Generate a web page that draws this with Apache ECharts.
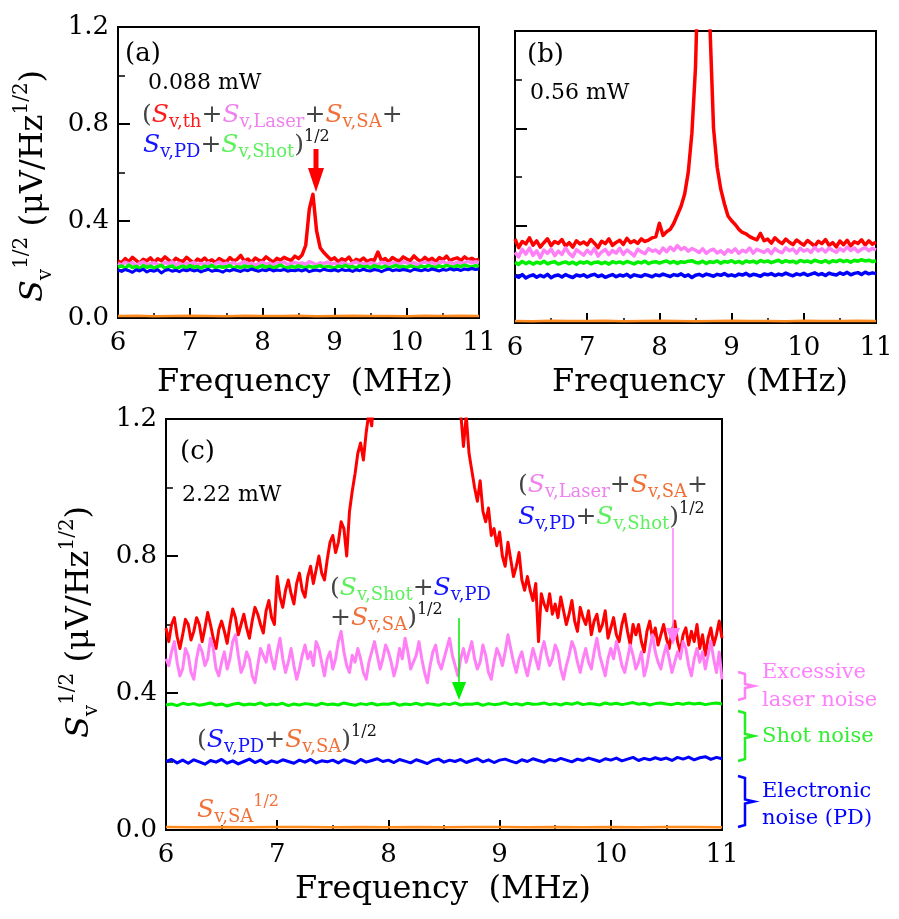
<!DOCTYPE html>
<html><head><meta charset="utf-8">
<script src="https://cdn.jsdelivr.net/npm/echarts@6/dist/echarts.min.js"></script>
<style>html,body{margin:0;padding:0;background:#fff}#c{width:899px;height:919px}</style>
</head><body><div id="c"></div>
<script>
// ---------- x grids (MHz) ----------
const freq = [
6,6.05,6.1,6.15,6.2,6.25,6.3,6.35,6.4,6.45,
6.5,6.55,6.6,6.65,6.7,6.75,6.8,6.85,6.9,6.95,
7,7.05,7.1,7.15,7.2,7.25,7.3,7.35,7.4,7.45,
7.5,7.55,7.6,7.65,7.7,7.75,7.8,7.85,7.9,7.95,
8,8.05,8.1,8.15,8.2,8.25,8.3,8.35,8.4,8.45,
8.5,8.55,8.6,8.65,8.7,8.75,8.8,8.85,8.9,8.95,
9,9.05,9.1,9.15,9.2,9.25,9.3,9.35,9.4,9.45,
9.5,9.55,9.6,9.65,9.7,9.75,9.8,9.85,9.9,9.95,
10,10.05,10.1,10.15,10.2,10.25,10.3,10.35,10.4,10.45,
10.5,10.55,10.6,10.65,10.7,10.75,10.8,10.85,10.9,10.95,
11];
const freqFine = [
6,6.025,6.05,6.075,6.1,6.125,6.15,6.175,6.2,6.225,
6.25,6.275,6.3,6.325,6.35,6.375,6.4,6.425,6.45,6.475,
6.5,6.525,6.55,6.575,6.6,6.625,6.65,6.675,6.7,6.725,
6.75,6.775,6.8,6.825,6.85,6.875,6.9,6.925,6.95,6.975,
7,7.025,7.05,7.075,7.1,7.125,7.15,7.175,7.2,7.225,
7.25,7.275,7.3,7.325,7.35,7.375,7.4,7.425,7.45,7.475,
7.5,7.525,7.55,7.575,7.6,7.625,7.65,7.675,7.7,7.725,
7.75,7.775,7.8,7.825,7.85,7.875,7.9,7.925,7.95,7.975,
8,8.025,8.05,8.075,8.1,8.125,8.15,8.175,8.2,8.225,
8.25,8.275,8.3,8.325,8.35,8.375,8.4,8.425,8.45,8.475,
8.5,8.525,8.55,8.575,8.6,8.625,8.65,8.675,8.7,8.725,
8.75,8.775,8.8,8.825,8.85,8.875,8.9,8.925,8.95,8.975,
9,9.025,9.05,9.075,9.1,9.125,9.15,9.175,9.2,9.225,
9.25,9.275,9.3,9.325,9.35,9.375,9.4,9.425,9.45,9.475,
9.5,9.525,9.55,9.575,9.6,9.625,9.65,9.675,9.7,9.725,
9.75,9.775,9.8,9.825,9.85,9.875,9.9,9.925,9.95,9.975,
10,10.025,10.05,10.075,10.1,10.125,10.15,10.175,10.2,10.225,
10.25,10.275,10.3,10.325,10.35,10.375,10.4,10.425,10.45,10.475,
10.5,10.525,10.55,10.575,10.6,10.625,10.65,10.675,10.7,10.725,
10.75,10.775,10.8,10.825,10.85,10.875,10.9,10.925,10.95,10.975,
11];
const freqCoarse = [6,6.25,6.5,6.75,7,7.25,7.5,7.75,8,8.25,8.5,8.75,9,9.25,9.5,9.75,10,10.25,10.5,10.75,11];

// ---------- panel (a) 0.088 mW ----------
const aTotal = [
.235,.228,.245,.232,.25,.238,.226,.242,.236,.248,
.23,.244,.236,.252,.24,.229,.246,.237,.233,.25,
.238,.226,.243,.235,.247,.232,.24,.228,.245,.237,
.231,.249,.236,.242,.258,.234,.243,.229,.247,.238,
.235,.252,.241,.23,.246,.239,.25,.243,.238,.255,
.245,.26,.30,.45,.51,.36,.29,.27,.255,.24,
.248,.232,.244,.238,.251,.229,.242,.236,.247,.233,
.24,.238,.272,.236,.245,.231,.249,.24,.235,.252,
.243,.237,.256,.241,.234,.25,.238,.246,.232,.249,
.24,.255,.236,.244,.248,.237,.252,.241,.246,.238,.243];
const aLaser = [
.225,.218,.23,.222,.228,.215,.226,.231,.219,.224,
.228,.221,.217,.229,.224,.232,.22,.226,.218,.227,
.223,.23,.219,.225,.221,.228,.216,.224,.231,.22,
.226,.222,.229,.218,.225,.233,.221,.227,.219,.224,
.23,.222,.226,.219,.228,.224,.231,.22,.225,.229,
.223,.227,.221,.232,.226,.219,.228,.224,.23,.222,
.226,.22,.229,.224,.218,.227,.231,.223,.225,.221,
.228,.224,.219,.23,.226,.222,.229,.225,.221,.232,
.227,.223,.228,.22,.226,.231,.224,.229,.222,.227,
.233,.225,.229,.223,.231,.226,.228,.234,.227,.232,.229];
const aShot = [
.21,.215,.205,.218,.208,.213,.204,.216,.209,.214,
.207,.212,.217,.206,.211,.215,.203,.21,.214,.208,
.216,.209,.212,.205,.214,.21,.217,.207,.213,.209,
.211,.216,.206,.212,.208,.215,.21,.213,.204,.211,
.216,.209,.214,.207,.212,.218,.21,.206,.213,.209,
.215,.211,.207,.214,.209,.212,.216,.208,.213,.21,
.206,.214,.211,.217,.209,.212,.207,.215,.21,.213,
.208,.216,.211,.209,.214,.207,.212,.217,.21,.213,
.209,.215,.211,.206,.214,.21,.216,.212,.208,.215,
.211,.217,.213,.209,.216,.212,.218,.214,.21,.216,.213];
const aPD = [
.198,.192,.2,.195,.188,.199,.194,.201,.19,.197,
.193,.199,.186,.196,.2,.193,.197,.191,.199,.195,
.2,.194,.198,.19,.196,.201,.193,.197,.195,.189,
.198,.194,.2,.196,.192,.199,.195,.202,.197,.193,
.199,.195,.201,.194,.198,.196,.2,.193,.197,.195,
.199,.194,.2,.191,.196,.198,.194,.201,.197,.195,
.199,.193,.2,.196,.198,.192,.199,.195,.201,.196,
.194,.2,.197,.191,.198,.202,.195,.199,.196,.2,
.197,.193,.201,.198,.195,.2,.196,.202,.198,.194,
.2,.197,.203,.198,.201,.196,.202,.199,.204,.2,.202];
const aSA = [.008,.009,.007,.008,.009,.008,.007,.009,.008,.008,.009,.007,.008,.009,.008,.008,.007,.009,.008,.009,.008];

// ---------- panel (b) 0.56 mW ----------
const bTotal = [
.345,.31,.335,.325,.35,.32,.338,.312,.33,.346,
.318,.335,.327,.343,.316,.33,.312,.338,.325,.333,
.321,.343,.328,.31,.336,.326,.346,.319,.331,.34,
.323,.348,.33,.338,.327,.346,.335,.341,.35,.354,
.41,.36,.375,.385,.41,.445,.48,.53,.62,.78,
1.05,1.6,2.4,1.9,1.22,.8,.64,.55,.49,.44,
.42,.405,.385,.372,.366,.355,.348,.342,.368,.338,
.345,.328,.35,.336,.326,.345,.332,.322,.341,.33,
.32,.339,.328,.316,.336,.326,.343,.319,.33,.313,
.337,.322,.34,.317,.334,.327,.342,.32,.338,.324,.332];
const bLaser = [
.29,.272,.303,.283,.308,.278,.297,.268,.3,.286,
.304,.277,.295,.282,.309,.286,.273,.301,.29,.279,
.299,.284,.306,.275,.292,.302,.281,.298,.287,.307,
.282,.3,.289,.276,.303,.292,.285,.306,.295,.3,
.287,.308,.293,.312,.298,.318,.302,.31,.295,.306,
.299,.29,.305,.286,.298,.303,.288,.297,.283,.301,
.291,.305,.286,.299,.292,.308,.287,.303,.296,.29,
.302,.285,.306,.294,.289,.309,.297,.304,.287,.307,
.295,.302,.29,.311,.296,.305,.292,.308,.298,.291,
.306,.296,.312,.298,.308,.293,.303,.31,.297,.307,.3];
const bShot = [
.249,.241,.253,.244,.251,.242,.25,.245,.254,.243,
.249,.252,.242,.247,.251,.244,.25,.241,.251,.246,
.252,.243,.249,.251,.244,.25,.242,.252,.247,.251,
.245,.253,.248,.243,.251,.247,.254,.244,.25,.252,
.246,.251,.255,.247,.253,.245,.252,.249,.254,.256,
.249,.247,.254,.245,.252,.249,.255,.246,.253,.25,
.256,.248,.253,.246,.255,.25,.254,.247,.257,.251,
.255,.248,.253,.258,.249,.256,.251,.254,.247,.257,
.252,.255,.249,.258,.253,.25,.257,.248,.256,.252,
.259,.252,.257,.25,.258,.254,.26,.255,.258,.252,.256];
const bPD = [
.195,.188,.199,.185,.193,.198,.188,.196,.19,.2,
.186,.194,.197,.189,.199,.192,.187,.197,.193,.198,
.189,.196,.2,.191,.197,.188,.194,.199,.19,.197,
.193,.2,.189,.198,.194,.191,.199,.195,.19,.198,
.194,.201,.196,.191,.199,.195,.202,.192,.198,.187,
.196,.2,.193,.201,.197,.192,.2,.196,.203,.194,
.198,.193,.201,.197,.204,.194,.2,.197,.192,.201,
.198,.203,.195,.201,.197,.205,.199,.194,.202,.198,
.204,.196,.201,.206,.198,.203,.195,.205,.2,.197,
.206,.2,.208,.198,.204,.207,.199,.209,.202,.206,.203];
const bSA = [.008,.007,.009,.008,.008,.009,.007,.008,.009,.008,.007,.008,.009,.008,.008,.007,.009,.008,.008,.009,.008];

// ---------- panel (c) 2.22 mW ----------
const cTotal = [
.59,.55,.6,.62,.565,.53,.57,.615,.6,.555,
.58,.62,.6,.55,.59,.635,.6,.56,.53,.585,
.61,.58,.545,.6,.645,.62,.57,.6,.63,.59,
.56,.61,.65,.63,.6,.575,.64,.67,.62,.6,
.74,.68,.65,.7,.73,.69,.66,.72,.75,.7,
.68,.74,.77,.72,.76,.8,.75,.73,.79,.84,
.86,.81,.84,.9,.88,.8,.93,.99,1.04,1.1,
1.13,1.08,1.16,1.22,1.18,1.3,1.4,1.5,1.65,1.8,
2.0,2.3,2.6,2.9,3.2,3.5,3.8,4.0,4.1,4.0,
3.8,3.5,3.2,2.9,2.6,2.3,2.1,1.9,1.75,1.6,
1.5,1.42,1.36,1.3,1.27,1.25,1.22,1.12,1.21,1.1,
1.05,1.0,.96,1.02,.93,.9,.94,.86,.88,.83,
.87,.8,.77,.84,.79,.74,.77,.81,.73,.7,
.74,.7,.67,.72,.55,.69,.66,.64,.69,.63,
.66,.62,.68,.64,.6,.63,.67,.61,.58,.65,
.62,.6,.64,.57,.61,.63,.58,.6,.64,.56,
.59,.62,.57,.55,.6,.63,.58,.54,.6,.57,
.6,.55,.52,.58,.61,.56,.59,.54,.57,.6,
.56,.53,.58,.61,.55,.52,.57,.59,.54,.58,
.55,.6,.53,.57,.51,.56,.59,.54,.57,.61,.56];
const cLaser = [
.5,.48,.52,.55,.49,.45,.47,.53,.51,.46,
.44,.5,.54,.52,.48,.5,.56,.53,.47,.45,
.49,.52,.47,.5,.55,.57,.51,.46,.48,.52,
.5,.45,.43,.48,.53,.51,.49,.54,.5,.47,
.52,.56,.5,.46,.49,.53,.48,.44,.47,.51,
.54,.5,.52,.48,.55,.53,.49,.45,.5,.52,
.47,.5,.55,.58,.52,.48,.46,.51,.49,.53,
.5,.46,.44,.49,.52,.55,.51,.47,.5,.54,
.52,.49,.45,.48,.53,.5,.56,.52,.47,.49,
.51,.55,.5,.46,.43,.48,.52,.54,.49,.47,
.5,.53,.56,.51,.48,.45,.5,.53,.49,.52,
.55,.5,.47,.49,.54,.51,.46,.44,.49,.53,
.51,.48,.52,.57,.53,.49,.46,.5,.52,.48,
.45,.49,.53,.5,.47,.52,.55,.51,.48,.5,
.54,.52,.47,.44,.48,.51,.55,.53,.49,.46,
.5,.53,.49,.47,.52,.56,.51,.48,.45,.5,
.53,.5,.55,.52,.48,.46,.5,.54,.51,.47,
.49,.52,.45,.48,.53,.57,.52,.49,.47,.51,
.54,.5,.46,.49,.52,.5,.55,.53,.48,.45,
.5,.53,.49,.52,.47,.51,.55,.5,.46,.52,.44];
const cShot = [
.365,.368,.363,.37,.366,.369,.364,.367,.371,.365,
.368,.362,.367,.37,.365,.368,.366,.371,.364,.368,
.366,.37,.363,.368,.365,.369,.367,.364,.37,.366,
.368,.365,.371,.367,.364,.369,.366,.37,.365,.368,
.367,.371,.364,.368,.366,.37,.365,.369,.367,.364,
.369,.366,.371,.365,.368,.367,.37,.364,.369,.366,
.368,.372,.366,.369,.365,.37,.367,.368,.371,.366,
.369,.365,.37,.367,.372,.366,.369,.368,.365,.371,
.367,.37,.366,.369,.372,.367,.37,.365,.369,.371,
.368,.366,.37,.367,.371,.368,.37,.366,.369,.371,.368];
const cPD = [
.2,.206,.196,.204,.195,.205,.199,.192,.203,.198,
.206,.195,.202,.193,.2,.207,.197,.204,.194,.202,
.197,.205,.2,.195,.204,.198,.206,.196,.202,.199,
.204,.196,.205,.2,.195,.206,.198,.203,.208,.2,
.204,.197,.206,.201,.196,.205,.2,.194,.203,.207,
.198,.204,.2,.206,.197,.203,.208,.199,.205,.197,
.204,.207,.201,.196,.205,.2,.208,.203,.198,.206,
.202,.209,.204,.199,.207,.203,.21,.205,.2,.208,
.204,.21,.202,.207,.212,.203,.209,.205,.211,.206,
.21,.203,.212,.207,.213,.205,.211,.214,.206,.212,.208];
const cSA = [.009,.008,.009,.008,.009,.009,.008,.009,.008,.009,.008,.009,.009,.008,.009,.008,.009,.008,.009,.009,.008];

const yTicks = ['0.0','0.4','0.8','1.2'];
const xTitle = 'Frequency  (MHz)';
const panelLabels = ['(a)', '(b)', '(c)'];
const powers = ['0.088 mW', '0.56 mW', '2.22 mW'];
const sideLabels = [['Excessive', 'laser noise'], ['Shot noise'], ['Electronic', 'noise (PD)']];

// ---------- styling ----------
const F = "'DejaVu Serif', serif";
const C = {red:'#ff0000', pink:'#ff80f6', green:'#00f000', blue:'#0000ff', orange:'#ff8a1e'};
const T = {red:'#ff1a1a', pink:'#ee82ee', orange:'#f07038', blue:'#1414ff', green:'#5cf05c', grey:'#444'};

function zip(xs, ys){ return xs.map((x,i)=>[x, ys[i]]); }
function line(gi, xs, ys, color, w, z){
  return {type:'line', xAxisIndex:gi, yAxisIndex:gi, data:zip(xs,ys), showSymbol:false, symbol:'none',
    lineStyle:{color, width:w, join:'round'}, itemStyle:{color}, animation:false, z, clip:true, silent:true};
}
function xAx(gi){
  return {type:'value', gridIndex:gi, min:6, max:11, interval:1,
    axisLine:{show:true, onZero:false, lineStyle:{color:'#000', width:2}},
    axisTick:{show:true, inside:true, length:10, lineStyle:{color:'#000', width:2}},
    minorTick:{show:true, splitNumber:2, length:5, lineStyle:{color:'#000', width:1.5}},
    splitLine:{show:false}, minorSplitLine:{show:false},
    axisLabel:{color:'#000', fontSize:26, fontFamily:F, margin:12}};
}
function yAx(gi, showLabels){
  return {type:'value', gridIndex:gi, min:0, max:1.2, interval:0.4,
    axisLine:{show:true, onZero:false, lineStyle:{color:'#000', width:2}},
    axisTick:{show:true, inside:true, length:12, lineStyle:{color:'#000', width:2}},
    minorTick:{show:true, splitNumber:2, length:7, lineStyle:{color:'#000', width:1.5}},
    splitLine:{show:false}, minorSplitLine:{show:false},
    axisLabel:{show:showLabels, color:'#000', fontSize:26, fontFamily:F, margin:9,
      formatter:(v)=>yTicks[Math.round(v/0.4)]}};
}

const mainSz = 25, subSz = 18, supSz = 16, LH = 32;
function S(col){ return {fill:col, fontSize:mainSz, fontStyle:'italic', fontFamily:F, lineHeight:LH}; }
function sb(col){ return {fill:col, fontSize:subSz, fontFamily:F, lineHeight:subSz, verticalAlign:'bottom'}; }
const RICH = {
  g:{fill:T.grey, fontSize:mainSz, fontFamily:F, lineHeight:LH},
  Sr:S(T.red), sr:sb(T.red), Sp:S(T.pink), sp:sb(T.pink), So:S(T.orange), so:sb(T.orange),
  Sb:S(T.blue), sb:sb(T.blue), Sg:S(T.green), sg:sb(T.green),
  up:{fill:'#111', fontSize:supSz, fontFamily:F, lineHeight:supSz, verticalAlign:'top'},
  upo:{fill:T.orange, fontSize:supSz, fontFamily:F, lineHeight:supSz, verticalAlign:'top'}
};
function rt(x, y, text){
  return {type:'text', x, y, z:50, style:{text, rich:RICH, align:'left', verticalAlign:'middle'}};
}
function pt(x, y, text, size, col){
  return {type:'text', x, y, z:50, style:{text, fill:col||'#000', font:size+'px '+F, align:'left', verticalAlign:'middle'}};
}
function ct(x, y, text, size){
  return {type:'text', x, y, z:50, style:{text, fill:'#000', font:size+'px '+F, align:'center', verticalAlign:'middle'}};
}
const YR = {
  S:{fill:'#000', fontSize:32, fontStyle:'italic', fontFamily:F, lineHeight:44},
  n:{fill:'#000', fontSize:32, fontFamily:F, lineHeight:44},
  v:{fill:'#000', fontSize:20, fontFamily:F, lineHeight:20, verticalAlign:'bottom'},
  u:{fill:'#000', fontSize:20, fontFamily:F, lineHeight:20, verticalAlign:'top'}
};
function ytitle(x, y){
  return {type:'text', x, y, rotation:Math.PI/2, z:50,
    style:{text:'{S|S}{v|v}{u|1/2}{n| (μV/Hz}{u|1/2}{n|)}', rich:YR, align:'center', verticalAlign:'middle'}};
}
function arrow(x, y0, y1, headTop, hw, col, lw){
  return [
    {type:'line', z:60, shape:{x1:x, y1:y0, x2:x, y2:headTop+1}, style:{stroke:col, lineWidth:lw}},
    {type:'polygon', z:60, shape:{points:[[x-hw,headTop],[x+hw,headTop],[x,y1]]}, style:{fill:col}}
  ];
}
function bracket(y0, y1, col){
  const ym = (y0+y1)/2;
  return {type:'polyline', z:60, shape:{points:[[738,y0],[745,y0+2],[745,ym-2],[754,ym],[745,ym+2],[745,y1-2],[738,y1]]},
    style:{stroke:col, lineWidth:2.5, fill:null}};
}

const graphics = [
  pt(125, 54, panelLabels[0], 26), pt(148, 83, powers[0], 22),
  rt(142, 115, '{g|(}{Sr|S}{sr|v,th}{g|+}{Sp|S}{sp|v,Laser}{g|+}{So|S}{so|v,SA}{g|+}'),
  rt(143, 145, '{Sb|S}{sb|v,PD}{g|+}{Sg|S}{sg|v,Shot}{g|)}{up|1/2}'),
  ...arrow(316, 149, 192, 168, 8, C.red, 5),
  pt(527, 55, panelLabels[1], 26), pt(530, 93, powers[1], 22),
  pt(180, 452, panelLabels[2], 26), pt(182, 495, powers[2], 22),
  rt(330, 588, '{g|(}{Sg|S}{sg|v,Shot}{g|+}{Sb|S}{sb|v,PD}'),
  rt(330, 618, '{g|+}{So|S}{so|v,SA}{g|)}{up|1/2}'),
  ...arrow(459, 618, 700, 682, 7, '#00ee00', 1.5),
  rt(518, 485, '{g|(}{Sp|S}{sp|v,Laser}{g|+}{So|S}{so|v,SA}{g|+}'),
  rt(518, 517, '{Sb|S}{sb|v,PD}{g|+}{Sg|S}{sg|v,Shot}{g|)}{up|1/2}'),
  ...arrow(673, 528, 645, 628, 7, C.pink, 1.5),
  rt(197, 740, '{g|(}{Sb|S}{sb|v,PD}{g|+}{So|S}{so|v,SA}{g|)}{up|1/2}'),
  rt(197, 810, '{So|S}{so|v,SA}{upo|1/2}'),
  bracket(672, 700, C.pink), bracket(711, 761, '#22ee22'), bracket(776, 827, C.blue),
  pt(762, 673, sideLabels[0][0], 21, '#ff80ff'), pt(762, 701, sideLabels[0][1], 21, '#ff80ff'),
  pt(762, 737, sideLabels[1][0], 21, '#33ee33'),
  pt(762, 792, sideLabels[2][0], 21, C.blue), pt(762, 819, sideLabels[2][1], 21, C.blue),
  ct(305, 383, xTitle, 32), ct(700, 383, xTitle, 32), ct(443, 890, xTitle, 32),
  ytitle(34, 186), ytitle(80, 622)
];

const chart = echarts.init(document.getElementById('c'), null, {renderer:'canvas'});
chart.setOption({
  animation:false,
  backgroundColor:'#fff',
  grid:[
    {left:118, top:27, width:361, height:291, show:true, borderColor:'#000', borderWidth:2, backgroundColor:'transparent', containLabel:false, outerBoundsMode:'none'},
    {left:515, top:31, width:361, height:292, show:true, borderColor:'#000', borderWidth:2, backgroundColor:'transparent', containLabel:false, outerBoundsMode:'none'},
    {left:166, top:419, width:556, height:411, show:true, borderColor:'#000', borderWidth:2, backgroundColor:'transparent', containLabel:false, outerBoundsMode:'none'}
  ],
  xAxis:[xAx(0), xAx(1), xAx(2)],
  yAxis:[yAx(0,true), yAx(1,false), yAx(2,true)],
  series:[
    line(0, freq, aTotal, C.red, 3.5, 2), line(0, freq, aLaser, C.pink, 3.5, 3), line(0, freq, aShot, C.green, 3.5, 4),
    line(0, freq, aPD, C.blue, 3, 5), line(0, freqCoarse, aSA, C.orange, 2.5, 6),
    line(1, freq, bTotal, C.red, 3.5, 2), line(1, freq, bLaser, C.pink, 3.5, 3), line(1, freq, bShot, C.green, 3.5, 4),
    line(1, freq, bPD, C.blue, 3.5, 5), line(1, freqCoarse, bSA, C.orange, 2.5, 6),
    line(2, freqFine, cTotal, C.red, 3, 2), line(2, freqFine, cLaser, C.pink, 3, 3), line(2, freq, cShot, C.green, 3, 4),
    line(2, freq, cPD, C.blue, 3, 5), line(2, freqCoarse, cSA, C.orange, 2.5, 6)
  ],
  graphic:{elements:graphics}
});
</script></body></html>
